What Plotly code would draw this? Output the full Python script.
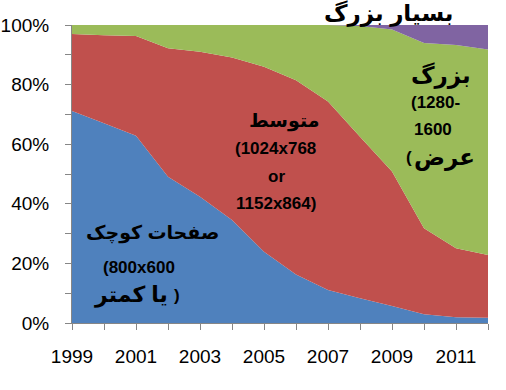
import plotly.graph_objects as go

years = list(range(1999, 2013))
small = [71.1, 67.0, 62.8, 49.1, 42.4, 34.6, 23.9, 16.3, 11.1, 8.3, 5.7, 2.9, 1.9, 1.8]
medium = [25.9, 29.6, 33.5, 43.1, 48.6, 54.5, 62.1, 65.2, 63.2, 54.2, 45.1, 28.9, 23.2, 21.0]
very_large = [0, 0, 0, 0, 0, 0, 0, 0, 0, 0.3, 1.5, 6.0, 6.7, 8.2]
large = [round(100 - s - m - v, 1) for s, m, v in zip(small, medium, very_large)]

y_ticks = [0, 20, 40, 60, 80, 100]
y_ticktext = ["%d%%" % v for v in y_ticks]
x_ticks = list(range(1999, 2012, 2))

series = [
    ("صفحات کوچک", small, "#4F81BD"),
    ("متوسط", medium, "#C0504D"),
    ("بزرگ", large, "#9BBB59"),
    ("بسیار بزرگ", very_large, "#8064A2"),
]

fig = go.Figure()
for name, vals, col in series:
    fig.add_trace(go.Scatter(
        x=years, y=vals, name=name, mode="none",
        stackgroup="one", groupnorm="percent",
        fillcolor=col, line=dict(width=0), hoverinfo="x+y+name",
    ))

L, R, T, B = 72, 488, 25, 323
def px(x, y):
    return (x - L) / (R - L), (B - y) / (B - T)

NUM = 17
labels = [
    ("بسیار بزرگ", 388, 13, 23),
    ("بزرگ", 441, 75, 23),
    ("(1280-", 435, 102, NUM),
    ("1600", 433, 129, NUM),
    ("عرض", 444, 157, 23),
    ("(", 409, 157, NUM),
    ("متوسط", 284, 121, 19),
    ("(1024x768", 275, 148, NUM),
    ("or", 276, 176, NUM),
    ("1152x864)", 276, 203, NUM),
    ("صفحات کوچک", 152, 233, 19),
    ("(800x600", 139, 267, NUM),
    ("یا کمتر", 131, 295, 22),
    (")", 177, 295, NUM),
]
for txt, x, y, sz in labels:
    xp, yp = px(x, y)
    fig.add_annotation(text="<b>%s</b>" % txt, x=xp, y=yp, xref="paper", yref="paper",
                       showarrow=False, xanchor="center", yanchor="middle",
                       font=dict(family="Liberation Sans, DejaVu Sans", size=sz, color="#000000"))

axis_col = "#868686"
fig.update_layout(
    width=506, height=390,
    margin=dict(l=L, r=506 - R, t=T, b=390 - B, pad=0, autoexpand=False),
    paper_bgcolor="white", plot_bgcolor="white",
    showlegend=False,
    font=dict(family="Liberation Sans", size=19, color="#000000"),
    xaxis=dict(range=[1999, 2012], tickvals=x_ticks, automargin=False,
               showgrid=False, zeroline=False, showline=True, linecolor=axis_col,
               ticks="outside", ticklen=6, tickcolor=axis_col, ticklabelstandoff=10,
               minor=dict(ticks="outside", dtick=1, tick0=1999, ticklen=6, tickcolor=axis_col),
               tickfont=dict(size=19)),
    yaxis=dict(range=[0, 100], tickvals=y_ticks, ticktext=y_ticktext, automargin=False,
               showgrid=False, zeroline=False, showline=True, linecolor=axis_col,
               ticks="outside", ticklen=6, tickcolor=axis_col, ticklabelstandoff=12,
               minor=dict(ticks="outside", dtick=10, tick0=0, ticklen=6, tickcolor=axis_col),
               tickfont=dict(size=19)),
)

fig.write_html("out.html", config={"displayModeBar": False},
               post_script="document.body.style.margin='0';document.body.style.overflow='hidden';")
